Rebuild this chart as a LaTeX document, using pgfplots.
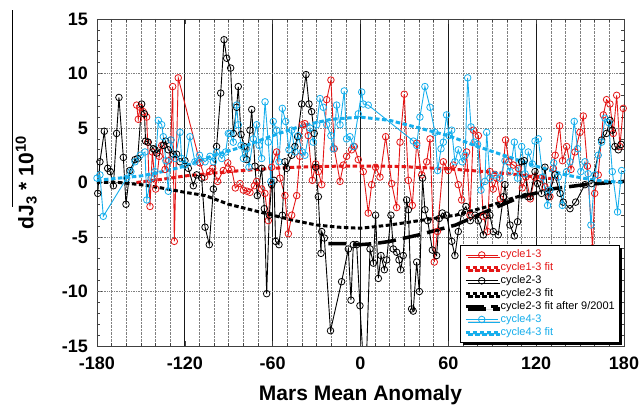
\documentclass[border=0pt]{standalone}
\usepackage{fontspec}
\setmainfont{Liberation Sans}
\usepackage{pgfplots}
\pgfplotsset{compat=1.18}
\usetikzlibrary{shadows}
\definecolor{cred}{RGB}{228,22,22}
\definecolor{ccyan}{RGB}{22,174,236}

\begin{document}
\begin{tikzpicture}
\path (-97pt,-60pt) rectangle (543pt,346pt);
\begin{axis}[
  scale only axis, width=527pt, height=327pt,
  xmin=-180, xmax=180, ymin=-15, ymax=15,
  xtick={-180,-120,...,180}, ytick={-15,-10,...,15},
  minor x tick num=5, minor y tick num=4,
  xmajorgrids, xminorgrids,
  major grid style={black!90, line width=0.7pt},
  minor grid style={black!50, densely dotted, line width=0.6pt},
  extra y ticks={-10,-5,0,5,10},
  extra y tick labels={},
  extra y tick style={grid=major, major grid style={black!50, densely dotted, line width=0.7pt}, major tick length=0pt},
  tick align=inside,
  major tick length=5pt, minor tick length=3pt,
  axis line style={black!75, line width=0.9pt},
  tick style={black!75, line width=0.6pt},
  /pgf/number format/assume math mode=true,
  ticklabel style={font=\bfseries\fontsize{18}{18}\selectfont},
  xticklabel style={inner sep=0pt, anchor=north, yshift=-11pt},
  yticklabel style={inner sep=0pt, anchor=east, xshift=-9pt},
  xlabel={Mars Mean Anomaly},
  xlabel style={font=\bfseries\fontsize{21}{21}\selectfont, at={(axis description cs:0.5,0)}, anchor=base, yshift=-55pt, inner sep=0pt},
  ylabel={dJ\textsubscript{3} * 10\textsuperscript{10}},
  ylabel style={font=\bfseries\fontsize{21}{21}\selectfont, at={(axis description cs:-0.1139,0.5)}, anchor=south, inner sep=0pt},
  legend style={at={(rel axis cs:0.689,0.31)}, anchor=north west, draw=black, line width=0.8pt, fill=white,
    font=\fontsize{11}{12}\selectfont, inner sep=3.5pt, row sep=0pt,
    nodes={inner sep=1pt, text height=8.3pt, text depth=2.6pt},
    drop shadow={shadow xshift=2.5pt, shadow yshift=-2.5pt, fill=black, opacity=1}},
  legend cell align=left,
  legend image code/.code={\draw[mark repeat=2,mark phase=2,#1] plot coordinates {(0pt,0pt) (16pt,0pt) (32pt,0pt)};},
  data/.style={line width=0.9pt, mark=o, mark size=3.3pt, mark options={solid, line width=0.8pt}},
  fit/.style={line width=3pt, dash pattern=on 4.5pt off 2.5pt},
]
% cycle1-3
\addplot[cred, data] coordinates {
(-152.9,7.1) (-151.8,5.8) (-150.6,6.9) (-148.4,6.5) (-146.1,6.0) (-145.4,3.7) (-143.8,-2.2) (-142.2,2.8)
(-139.9,-0.6) (-137.5,2.4) (-135.8,3.4) (-133.5,1.2) (-131,2.0) (-129.5,3.9) (-128.3,8.8) (-127.2,-5.4)
(-124.5,9.6) (-109.6,1.8) (-106.5,0.5) (-103,1.0) (-101,1.3) (-97.6,0.1) (-93.7,1.1) (-90.7,1.8) (-88,1.2)
(-85.5,-0.5) (-82.3,-0.1) (-80,-0.7) (-77.5,-0.8) (-75.5,-0.9) (-72.5,-0.3) (-70.9,0.1) (-67.5,-0.6)
(-65.3,-1.0) (-63,-3.5) (-60.7,1.4) (-57.3,2.8) (-55,0.4) (-51.6,-1.2) (-49.3,-4.7) (-47,-3.0) (-43.6,-1.2)
(-41.4,2.4) (-39.8,5.3) (-38,5.4) (-35.7,4.3) (-32.9,0.2) (-30.6,1.7) (-28.8,1.0) (-26.5,-0.2) (-23.1,7.6)
(-20.2,9.4) (-17.9,3.1) (-14,0.1) (-11.7,1.6) (-9.5,2.4) (-6.1,3.0) (-4.2,3.3) (-1.5,2.1) (1.9,1.0)
(5.3,-2.8) (7.6,-0.2) (10.3,1.4) (13.3,0.5) (17.2,4.2) (21.3,-0.1) (24.7,-2.3) (27,3.7) (29.9,8.1)
(32.7,0.2) (35.4,-2.1) (38.4,3.6) (41.8,0.7) (45.2,1.9) (47.5,4.0) (50.4,-7.3) (52.5,-4.5) (56.6,1.9)
(60,1.1) (63.4,1.6) (66.8,-0.2) (69.1,-1.6) (72.5,2.8) (74.8,-3.0) (77.1,4.8) (80.5,4.3) (83.9,-3.1)
(86.8,-4.5) (88.4,1.0) (90.7,-0.6) (93,0.4) (95.5,-1.5) (99.1,3.9) (101.4,1.9) (104.4,1.6) (107.8,1.3)
(110.5,-0.5) (113,0.5) (116,-1.5) (119,0.5) (122.6,0.4) (126,-0.4) (129.4,-1.3) (131.7,1.3) (133,2.5)
(136,5.2) (138,2.0) (140.8,3.3) (143.8,1.2) (146.5,2.8) (149.9,4.6) (152.2,6.1) (155,1.5) (158.5,-6.0)
(160,-1.0) (162.4,0.7) (165.9,6.2) (168.1,7.6) (170.4,7.2) (172.7,4.5) (175,8.0) (177.2,3.3) (179.5,6.8)
};
\addlegendentry{\textcolor{cred}{cycle1-3}}
\addplot[cred, fit] coordinates {
(-153,0) (-135,0.3) (-120,0.6) (-105,0.8) (-90,1.0) (-75,1.15) (-60,1.3) (-45,1.4) (-30,1.45) (-15,1.5)
(0,1.5) (15,1.5) (30,1.45) (45,1.35) (60,1.25) (75,1.1) (90,0.95) (105,0.75) (120,0.5) (135,0.3)
};
\addlegendentry{\textcolor{cred}{cycle1-3 fit}}
% cycle2-3
\addplot[black, data] coordinates {
(-179.5,-1.0) (-178,1.9) (-175,4.7) (-172.7,1.3) (-171,1.0) (-168.8,-0.3) (-166.6,4.5) (-165,7.8) (-162,2.3)
(-160.2,-2.0) (-157.5,1.1) (-154,2.1) (-152.2,2.2) (-149.5,7.2) (-147.6,6.3) (-146.8,3.8) (-145,3.7)
(-141.5,3.1) (-140.4,3.0) (-139.2,2.7) (-134.7,3.4) (-133.1,3.8) (-131.3,3.0) (-127.9,2.6) (-125.6,2.6)
(-123.3,1.9) (-119.9,2.0) (-117.6,1.3) (-114.2,-0.3) (-111.9,0.7) (-108.5,0.4) (-106.2,-4.1) (-103.3,-5.7)
(-100.5,-0.6) (-98.3,3.3) (-95.5,8.2) (-93.2,13.1) (-91.4,11.4) (-88.7,10.5) (-86.9,4.5) (-84.6,6.9)
(-83.5,8.8) (-81.6,4.4) (-79.4,3.3) (-77.7,2.1) (-75.5,4.8) (-74.3,6.7) (-72.1,1.5) (-70.5,-1.2)
(-67.5,1.3) (-65.7,-2.4) (-64.1,-10.2) (-62.3,-3.0) (-60.7,-0.2) (-59.1,0.2) (-58,-5.4) (-55.7,-5.7)
(-53.4,-3.0) (-51.6,1.9) (-50.5,1.3) (-47,2.5) (-44.8,3.3) (-43,4.2) (-40.2,7.2) (-37.2,9.9) (-35.2,7.2)
(-33.4,6.5) (-31.6,4.5) (-30.6,1.4) (-28.8,-1.3) (-27,-6.5) (-26.5,-4.5) (-24.7,-5.1) (-20.5,-13.6)
(-12.9,-9.1) (-8.3,-6.1) (-6.5,-10.8) (-4.9,-5.7) (-2.6,-5.7) (-0.4,-11.3) (1.9,-16.5) (4,-16.5)
(6.5,-6.1) (8.8,-7.4) (10.3,-3.0) (12.2,-8.8) (14,-6.7) (16.3,-8.0) (17.9,-7.1) (20.8,-3.0) (22.4,-6.1)
(24.7,-6.4) (26.3,-7.1) (27.4,-8.0) (29.2,-6.7) (31.5,-1.6) (32.7,-2.5) (34.9,-11.6) (36,-11.8) (38.4,-7.3)
(40.2,-10.0) (42.4,0.4) (44,-2.5) (45.9,-3.5) (49.1,-6.2) (52,-6.7) (53.8,-3.3) (55.9,-2.8) (58.8,-3.0)
(62.3,-5.4) (64.5,-6.7) (66.8,-4.5) (69.1,-2.8) (72,-2.2) (75,-3.5) (78.2,-3.0) (80.5,-3.5) (83.9,-4.8)
(86.2,-3.0) (88.4,-3.0) (90.7,-4.5) (94.1,-4.8) (97.6,-1.3) (98.7,-0.2) (102.1,-3.9) (105.1,-4.9)
(107.3,-3.6) (110,1.9) (111.9,2.0) (114.2,-1.3) (115.8,-1.3) (119.2,1.0) (121,-0.1) (123.7,-1.0) (126,1.4)
(128.3,-1.3) (132.8,0.7) (136.3,-1.0) (138.5,-1.8) (143.1,-2.4) (147,-1.8) (153.3,-0.2) (157.9,-0.1)
(164.7,3.9) (168,4.5) (170.4,5.7) (172,4.8) (173.8,3.3) (176.1,3.0) (178,3.5)
};
\addlegendentry{cycle2-3}
\addplot[black, fit] coordinates {
(-180,0) (-165,0) (-150,-0.2) (-136,-0.5) (-120,-0.9) (-106,-1.2) (-90,-2.0) (-75,-2.5) (-60,-3.0)
(-45,-3.5) (-30,-3.9) (-15,-4.1) (0,-4.2) (20,-3.9) (40,-3.5) (65,-3.0) (87,-2.2) (100,-1.6) (115,-1.0)
};
\addlegendentry{cycle2-3 fit}
\addplot[black, line width=3.5pt, dash pattern=on 18pt off 7pt] coordinates {
(-22,-5.6) (-10,-5.6) (0,-5.7) (10,-5.6) (20,-5.4) (40,-4.8) (65,-3.9) (87,-2.6) (108,-1.4) (130,-0.6)
(153,-0.2) (180,0.1)
};
\addlegendentry{cycle2-3 fit after 9/2001}
% cycle4-3
\addplot[ccyan, data] coordinates {
(-180,0.4) (-178,0.7) (-175.7,-3.1) (-159.7,0.4) (-156.8,1.0) (-154,1.9) (-150.5,2.5) (-147.2,2.8)
(-146,-1.6) (-143.1,0.4) (-140.5,1.0) (-138.1,5.7) (-135.8,5.3) (-134.7,4.2) (-133,2.0) (-131.3,-0.8)
(-129.5,3.9) (-126.7,2.2) (-123.3,4.6) (-122.2,2.2) (-119.9,1.6) (-116.5,4.2) (-113.1,1.9) (-110,2.5)
(-106.2,1.9) (-102.8,2.4) (-100.5,1.9) (-98.3,2.8) (-94.8,2.2) (-92.1,2.8) (-90.3,4.5) (-89.2,4.5)
(-86.9,3.7) (-84.6,7.1) (-83.5,5.3) (-81.6,3.4) (-80,2.2) (-77.8,3.1) (-76.2,1.4) (-73.2,4.0) (-70.9,5.3)
(-69.3,3.4) (-67.5,2.2) (-65.2,7.4) (-63,3.7) (-61.2,0.1) (-59.6,5.6) (-57.3,4.8) (-55.7,1.9) (-53.4,6.8)
(-51.1,5.6) (-48.9,3.0) (-47,4.8) (-44.8,2.8) (-42.5,4.3) (-39.8,2.8) (-38,2.5) (-34.5,5.0) (-32.3,3.7)
(-29.9,5.3) (-27.7,7.7) (-25.4,6.9) (-23.1,5.3) (-20.2,4.3) (-18.6,3.1) (-16.3,7.1) (-14,5.3) (-11.1,8.4)
(-9.5,4.0) (-7.2,4.2) (-4.9,3.3) (-1.5,6.3) (0.8,8.3) (1.9,7.2) (5.3,7.1) (36.1,3.8) (38.4,3.4) (40.6,6.0)
(44,8.8) (47.5,6.9) (50.9,4.6) (52.7,1.1) (55,3.1) (56.6,3.7) (58.8,6.2) (60.4,4.3) (62.3,4.8) (64.5,1.9)
(66.8,3.0) (69.5,1.9) (71.5,2.5) (73.2,9.6) (75.5,5.1) (77.7,3.7) (80,3.5) (82.3,-0.7) (85,0.1) (86.2,4.6)
(88.4,0.4) (91.9,0.7) (95.3,0.4) (98.7,2.0) (102.1,1.0) (105.1,3.7) (107.3,0.4) (110.1,3.3) (112.4,0.8)
(114.6,2.8) (117.4,1.7) (119.2,3.8) (121.5,4.0) (124.5,0.5) (127.8,-2.1) (129.4,-0.7) (132,1.8) (135.1,0.5)
(137.9,-2.1) (140.8,1.0) (143.1,1.9) (146,5.6) (148.3,3.1) (150.5,1.0) (153.3,1.9) (155.5,0.8) (157.4,-3.9)
(160.2,0.7) (162.4,2.5) (164.7,3.7) (167,5.9) (169.5,5.5) (172,1.0) (175.6,-2.7) (178.4,1.1)
};
\addlegendentry{\textcolor{ccyan}{cycle4-3}}
\addplot[ccyan, fit] coordinates {
(-180,0.2) (-165,0.4) (-150,0.6) (-135,1.0) (-120,1.5) (-100,2.5) (-80,3.3) (-60,4.3) (-40,5.2) (-20,5.8)
(0,6.0) (20,5.7) (40,5.0) (60,4.3) (80,3.3) (100,2.4) (120,1.5) (140,0.7) (160,0.2) (180,0.0)
};
\addlegendentry{\textcolor{ccyan}{cycle4-3 fit}}
\end{axis}
\draw[black, line width=0.8pt] (-85pt,139pt) -- (-85pt,336pt);
\end{tikzpicture}
\end{document}
